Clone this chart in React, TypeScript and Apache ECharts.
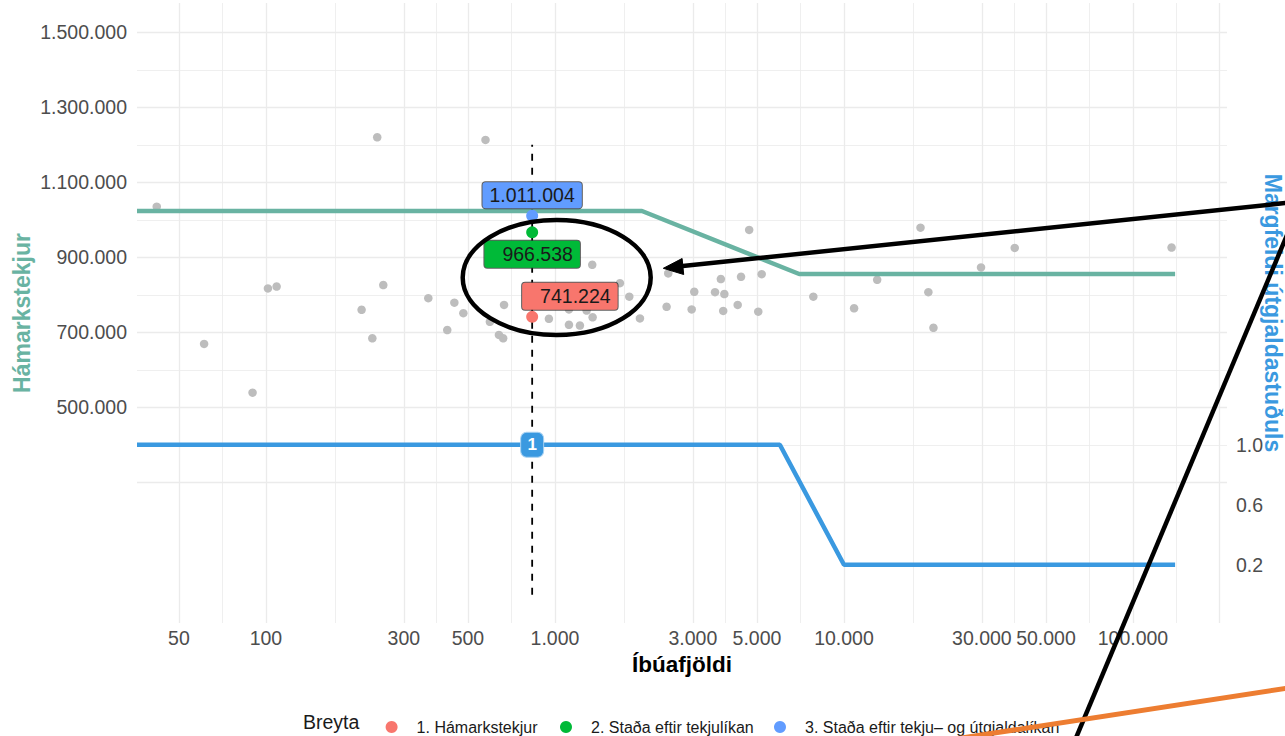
import React, { useEffect, useRef } from "react";
import * as echarts from "echarts";

// ---------- data ----------
const popTicks = [50, 100, 300, 500, 1000, 3000, 5000, 10000, 30000, 50000, 100000];
const popMajorGrid = [50, 100, 300, 500, 1000, 3000, 5000, 10000, 30000, 50000, 100000, 200000];
const popMinorGrid = [71, 173, 387, 707, 1732, 3873, 7071, 17321, 38730, 70711, 141421];
const incomeTicks = [500000, 700000, 900000, 1100000, 1300000, 1500000];
const incomeMajorGrid = [300000, 500000, 700000, 900000, 1100000, 1300000, 1500000];
const incomeMinorGrid = [400000, 600000, 800000, 1000000, 1200000, 1400000];
const multiplierTicks = [0.2, 0.6, 1.0];

const popRange = [35.8, 211500];
const incomeRange = [-75200, 1578100];
const multiplierToIncome = 400000;

const municipalityPop = [
  41.9, 61.1, 89.9, 101.6, 108.9, 214.3, 233.4, 242.7, 254.7, 364.6,
  424, 448.7, 482, 575, 595.5, 640, 662, 666.6, 953, 1118,
  1118, 1220, 1287, 1346, 1350, 1678, 1808, 1968, 2434, 2466,
  2972, 3034, 3580, 3750, 3821, 3856, 4288, 4404, 4699, 5052,
  5192, 7834, 10840, 13030, 18400, 19590, 20400, 29800, 38980, 136000,
];
const municipalityIncome = [
  1035000, 669000, 539000, 817000, 822000, 760000, 684000, 1220000, 826000, 791000,
  706000, 779000, 751000, 1213000, 728000, 693000, 684000, 773000, 736000, 761000,
  720000, 718000, 758000, 880000, 740000, 831000, 795000, 737000, 768000, 857000,
  761000, 808000, 807000, 842000, 757000, 802000, 773000, 848000, 973000, 755000,
  855000, 795000, 764000, 840000, 979000, 807000, 712000, 873000, 925000, 926000,
];

const capPop = [35.8, 2000, 7000, 139875];
const capIncome = [1023500, 1023500, 855500, 855500];
const multPop = [35.8, 6000, 10000, 139875];
const multValue = [1, 1, 0.2, 0.2];

const selectedPop = 834;
const dashedIncome = [0, 1200000];
const badgeValue = 1;
const resultNames = [
  "1. Hámarkstekjur",
  "2. Staða eftir tekjulíkan",
  "3. Staða eftir tekju– og útgjaldalíkan",
];
const resultValues = [741224, 966538, 1011004];

// ---------- styles ----------
const FONT = "Liberation Sans, Arial, sans-serif";
const GREEN = "#69B3A2";
const BLUE = "#3A99E0";
const resultColors = ["#F8766D", "#00BA38", "#619CFF"];
const labelOffsets: [number, number][] = [[37.7, -20.5], [0, 22], [0, -20.5]];
const labelPaddings = [[4, 7, 3, 18], [4, 7, 3, 18], [3, 7, 3, 7]];
const legendLefts = [380.6, 555, 769];

const L = (v: number) => Math.log10(v);
const fmt = (n: number) =>
  Math.round(n).toString().replace(/\B(?=(\d{3})+(?!\d))/g, ".");

export default function App() {
  const ref = useRef<HTMLDivElement>(null);
  useEffect(() => {
    if (!ref.current) return;
    const chart = echarts.init(ref.current, undefined, { renderer: "svg" });

    const gridLines = [
      ...popMajorGrid.map((v) => ({ xAxis: L(v), lineStyle: { width: 1.3 } })),
      ...popMinorGrid.map((v) => ({ xAxis: L(v), lineStyle: { width: 0.8 } })),
      ...incomeMajorGrid.map((v) => ({ yAxis: v, lineStyle: { width: 1.3 } })),
      ...incomeMinorGrid.map((v) => ({ yAxis: v, lineStyle: { width: 0.8 } })),
    ];

    const resultSeries = resultNames.map((name, i) => ({
      name,
      type: "scatter",
      z: 6 + i,
      symbolSize: 12,
      itemStyle: { color: resultColors[i], opacity: 1 },
      data: [[L(selectedPop), resultValues[i]]],
      label: {
        show: true,
        position: "inside",
        offset: labelOffsets[i],
        formatter: () => fmt(resultValues[i]),
        fontFamily: FONT,
        fontSize: 19.5,
        color: "#1a1a1a",
        backgroundColor: resultColors[i],
        borderColor: "rgba(40,40,40,0.75)",
        borderWidth: 1,
        borderRadius: 3,
        padding: labelPaddings[i],
      },
      silent: true,
    }));

    const legends = resultNames.map((name, i) => ({
      data: [{ name, icon: "circle" }],
      left: legendLefts[i],
      top: 714,
      itemWidth: 12,
      itemHeight: 12,
      selectedMode: false,
      textStyle: {
        fontFamily: FONT,
        fontSize: 16,
        color: "#1a1a1a",
        padding: [0, 0, 0, 14],
      },
    }));

    chart.setOption({
      animation: false,
      backgroundColor: "#ffffff",
      grid: {
        left: 137,
        right: 58,
        top: 3,
        bottom: 113,
        containLabel: false,
        outerBoundsMode: "none",
      },
      legend: legends,
      xAxis: {
        type: "value",
        min: L(popRange[0]),
        max: L(popRange[1]),
        axisLine: { show: false },
        axisTick: { show: false },
        splitLine: { show: false },
        axisLabel: {
          customValues: popTicks.map(L),
          formatter: (v: number) => fmt(Math.pow(10, v)),
          color: "#4d4d4d",
          fontSize: 19.5,
          fontFamily: FONT,
          margin: 5,
        },
        name: "Íbúafjöldi",
        nameLocation: "middle",
        nameGap: 30,
        nameMoveOverlap: false,
        nameTextStyle: { color: "#000", fontWeight: "bold", fontSize: 22.5, fontFamily: FONT },
      },
      yAxis: [
        {
          type: "value",
          position: "left",
          min: incomeRange[0],
          max: incomeRange[1],
          axisLine: { show: false },
          axisTick: { show: false },
          splitLine: { show: false },
          axisLabel: {
            customValues: incomeTicks,
            formatter: (v: number) => fmt(v),
            color: "#4d4d4d",
            fontSize: 19.5,
            fontFamily: FONT,
            margin: 10,
          },
          name: "Hámarkstekjur",
          nameLocation: "middle",
          nameRotate: 90,
          nameGap: 104,
          nameMoveOverlap: false,
          nameTextStyle: { color: GREEN, fontWeight: "bold", fontSize: 23, fontFamily: FONT },
        },
        {
          type: "value",
          position: "right",
          min: incomeRange[0] / multiplierToIncome,
          max: incomeRange[1] / multiplierToIncome,
          axisLine: { show: false },
          axisTick: { show: false },
          splitLine: { show: false },
          axisLabel: {
            customValues: multiplierTicks,
            formatter: (v: number) => v.toFixed(1),
            color: "#4d4d4d",
            fontSize: 19.5,
            fontFamily: FONT,
            margin: 9,
          },
          name: "Margfeldi útgjaldastuðuls",
          nameLocation: "middle",
          nameRotate: -90,
          nameGap: 34,
          nameMoveOverlap: false,
          nameTextStyle: { color: BLUE, fontWeight: "bold", fontSize: 23, fontFamily: FONT },
        },
      ],
      series: [
        {
          type: "scatter",
          z: 0,
          silent: true,
          symbolSize: 0,
          data: [[L(popRange[0]), incomeRange[0]]],
          markLine: {
            z: 0,
            silent: true,
            symbol: ["none", "none"],
            label: { show: false },
            lineStyle: { color: "#ebebeb", type: "solid", width: 1 },
            data: gridLines,
          },
        },
        {
          type: "scatter",
          z: 1,
          silent: true,
          symbolSize: 8.5,
          itemStyle: { color: "#bdbdbd", opacity: 1 },
          data: municipalityPop.map((p, i) => [L(p), municipalityIncome[i]]),
        },
        {
          type: "line",
          z: 2,
          silent: true,
          showSymbol: false,
          lineStyle: { color: GREEN, width: 4.5 },
          data: capPop.map((p, i) => [L(p), capIncome[i]]),
        },
        {
          type: "line",
          z: 2,
          silent: true,
          yAxisIndex: 1,
          showSymbol: false,
          lineStyle: { color: BLUE, width: 4.5 },
          data: multPop.map((p, i) => [L(p), multValue[i]]),
        },
        {
          type: "line",
          z: 3,
          silent: true,
          showSymbol: false,
          lineStyle: { color: "#000", width: 1.8, type: [7, 7] },
          data: dashedIncome.map((v) => [L(selectedPop), v]),
        },
        {
          type: "scatter",
          z: 4,
          silent: true,
          yAxisIndex: 1,
          symbol: "roundRect",
          symbolSize: [23, 25],
          itemStyle: { color: BLUE, opacity: 1, borderColor: "#a9d2f2", borderWidth: 1 },
          data: [[L(selectedPop), badgeValue]],
          label: {
            show: true,
            position: "inside",
            formatter: String(badgeValue),
            color: "#fff",
            fontWeight: "bold",
            fontSize: 17,
            fontFamily: FONT,
          },
        },
        ...resultSeries,
      ],
      graphic: [
        {
          type: "text",
          x: 303,
          y: 722,
          z: 50,
          style: { text: "Breyta", fontSize: 19.5, fontFamily: FONT, fill: "#1a1a1a", verticalAlign: "middle" },
        },
        {
          type: "ellipse",
          z: 100,
          shape: { cx: 556.7, cy: 277.5, rx: 94, ry: 57.5 },
          style: { fill: "none", stroke: "#000", lineWidth: 4.5 },
        },
        {
          type: "line",
          z: 100,
          shape: { x1: 1295, y1: 202, x2: 678, y2: 266.5 },
          style: { stroke: "#000", lineWidth: 4.5 },
        },
        {
          type: "polygon",
          z: 100,
          shape: { points: [[663.3, 268.3], [683.7, 274.5], [682.1, 258.5]] },
          style: { fill: "#000", stroke: "#000", lineWidth: 1 },
        },
        {
          type: "line",
          z: 100,
          shape: { x1: 1300, y1: 204, x2: 1073, y2: 745 },
          style: { stroke: "#000", lineWidth: 4.5 },
        },
        {
          type: "line",
          z: 100,
          shape: { x1: 955, y1: 739, x2: 1295, y2: 687 },
          style: { stroke: "#ED7D31", lineWidth: 5 },
        },
      ],
    });
    return () => chart.dispose();
  }, []);
  return (
    <div
      ref={ref}
      style={{ position: "fixed", left: 0, top: 0, width: 1285, height: 736, background: "#fff" }}
    />
  );
}
